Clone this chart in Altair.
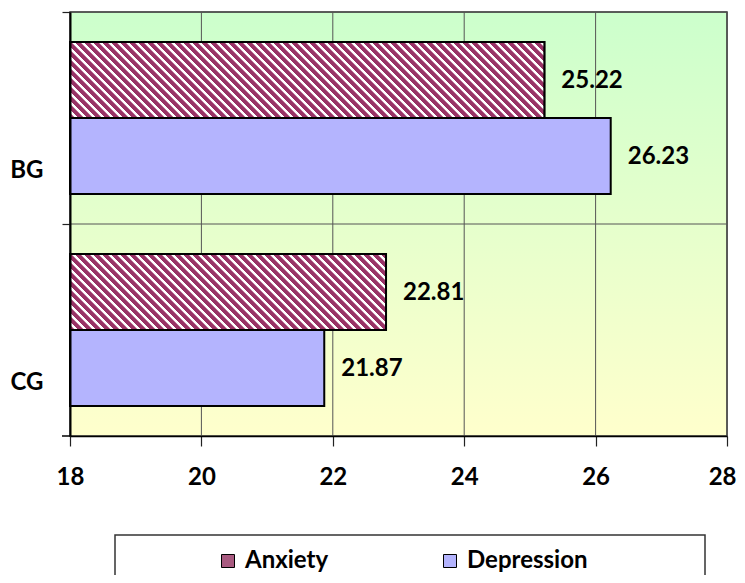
import altair as alt
import pandas as pd

# ---- data ----
groups = ["BG", "BG", "CG", "CG"]
series = ["Anxiety", "Depression", "Anxiety", "Depression"]
values = [25.22, 26.23, 22.81, 21.87]
x_ticks = [18, 20, 22, 24, 26, 28]
x_domain = [18, 28]
group_order = ["BG", "CG"]
series_order = ["Anxiety", "Depression"]

df = pd.DataFrame({"group": groups, "series": series, "value": values})
df["label"] = [f"{v:.2f}" for v in values]
ticks_df = pd.DataFrame({"tick": x_ticks})
groups_df = pd.DataFrame({"group": group_order})

# ---- style ----
W, H = 657, 424
BAR_H = 76
FONT = "Lato"
DARK = "#993366"
BLUE = "#b4b4fe"
ANX_SOLID = "#a85a80"
LAST = x_ticks[-1]


def stripes(w, h, period=9.0, dark=DARK, light="#ffffff"):
    """Diagonal '\\' stripes as a linear gradient in bounding-box units."""
    L = w + h
    P = period / L
    c = L / (w * w + h * h)
    stops = []
    k = 0
    while k * P < 1:
        base = k * P
        for frac, col in [(0.0, dark), (0.5, dark), (0.65, light), (0.9, light)]:
            o = base + frac * P
            if o <= 1:
                stops.append(alt.GradientStop(offset=round(o, 5), color=col))
        k += 1
    return alt.LinearGradient(gradient="linear", stops=stops,
                              x1=0, y1=1, x2=c * w, y2=1 - c * h)


x_scale = alt.Scale(domain=x_domain, nice=False, zero=False)
x_axis = alt.Axis(values=x_ticks, title=None, grid=False, zindex=1,
                  domainColor="black", domainWidth=1.5,
                  tickColor="#222222", tickSize=10, tickWidth=1.2,
                  labelFont=FONT, labelFontSize=24, labelFontWeight="bold",
                  labelColor="black", labelPadding=19, labelFlush=False,
                  labelAlign={"condition": {"test": f"datum.value == {LAST}", "value": "right"},
                              "value": "center"},
                  labelOffset={"condition": {"test": f"datum.value == {LAST}", "value": 9},
                               "value": 0})
y_scale = alt.Scale(domain=group_order, paddingInner=0, paddingOuter=0)
y_axis = alt.Axis(title=None, grid=False, zindex=1, bandPosition=0,
                  labelOffset=H / 8, labelAngle=0,
                  domainColor="black", domainWidth=2,
                  tickColor="#222222", tickSize=8, tickWidth=1.2,
                  labelFont=FONT, labelFontSize=24, labelFontWeight="bold",
                  labelColor="black", labelPadding=19)
yoff = alt.YOffset("series:N", sort=series_order,
                   scale=alt.Scale(domain=series_order, paddingInner=0, paddingOuter=0.395))

# background gradient
bg = alt.Chart(alt.Data(values=[{"k": 0}])).mark_rect(
    fill=alt.LinearGradient(gradient="linear",
                            stops=[alt.GradientStop(offset=0, color="#ccffcc"),
                                   alt.GradientStop(offset=1, color="#ffffcc")],
                            x1=0, y1=0, x2=0, y2=1),
    stroke="#333333", strokeWidth=1.5,
).encode(x=alt.value(0), x2=alt.value(W), y=alt.value(0), y2=alt.value(H))

# vertical gridlines
vgrid = alt.Chart(ticks_df).mark_rule(color="#555555", strokeWidth=1).encode(
    x=alt.X("tick:Q", scale=x_scale, axis=x_axis)
)

# horizontal separator at band boundaries
hgrid = alt.Chart(groups_df).mark_rule(color="#555555", strokeWidth=1).encode(
    y=alt.Y("group:N", bandPosition=0, scale=y_scale, axis=y_axis, sort=group_order)
)

bars = alt.Chart(df).mark_bar(stroke="black", strokeWidth=2).encode(
    y=alt.Y("group:N", scale=y_scale, axis=y_axis, sort=group_order),
    yOffset=yoff,
    x=alt.X("value:Q", scale=x_scale, axis=x_axis),
    x2=alt.datum(x_domain[0]),
    color=alt.Color(
        "series:N",
        scale=alt.Scale(domain=series_order, range=[ANX_SOLID, BLUE]),
        legend=alt.Legend(orient="none", legendX=146, legendY=537,
                          direction="horizontal", columns=2, title=None,
                          symbolType="square", symbolSize=169,
                          symbolStrokeColor="black", symbolStrokeWidth=1,
                          symbolOpacity=1, labelFont=FONT, labelFontSize=24,
                          labelFontWeight="bold", labelColor="black",
                          columnPadding=109, labelOffset=5, padding=0),
    ),
)

layers = [bg, vgrid, hgrid, bars]

# striped overlays for the Anxiety bars
for g, s, v in zip(groups, series, values):
    if s != "Anxiety":
        continue
    w = (v - x_domain[0]) / (x_domain[1] - x_domain[0]) * W
    layers.append(
        alt.Chart(df).transform_filter(
            (alt.datum.group == g) & (alt.datum.series == s)
        ).mark_bar(fill=stripes(w, BAR_H), stroke="black", strokeWidth=2).encode(
            y=alt.Y("group:N", scale=y_scale, axis=y_axis, sort=group_order),
            yOffset=yoff,
            x=alt.X("value:Q", scale=x_scale, axis=x_axis),
            x2=alt.datum(x_domain[0]),
        )
    )

labels = alt.Chart(df).mark_text(
    align="left", baseline="middle", dx=17, dy=1,
    font=FONT, fontSize=24, fontWeight="bold", color="black",
).encode(
    y=alt.Y("group:N", scale=y_scale, axis=y_axis, sort=group_order),
    yOffset=yoff,
    x=alt.X("value:Q", scale=x_scale, axis=x_axis),
    text="label:N",
)

bottom_tick = alt.Chart(alt.Data(values=[{"k": 0}])).mark_rule(
    color="black", strokeWidth=1.5
).encode(x=alt.value(-8), x2=alt.value(0), y=alt.value(H))

legend_box = alt.Chart(alt.Data(values=[{"k": 0}])).mark_rect(
    fill="white", stroke="#333333", strokeWidth=1.5
).encode(x=alt.value(45), x2=alt.value(635), y=alt.value(523), y2=alt.value(600))

layers += [labels, bottom_tick, legend_box]

chart = alt.layer(*layers).properties(
    width=W, height=H,
    padding={"left": 62, "top": 4, "right": 10, "bottom": 139},
    autosize=alt.AutoSizeParams(type="none"),
).configure_view(stroke=None).configure(font=FONT)

chart.save("out.html", embed_options={"renderer": "svg", "actions": False})
